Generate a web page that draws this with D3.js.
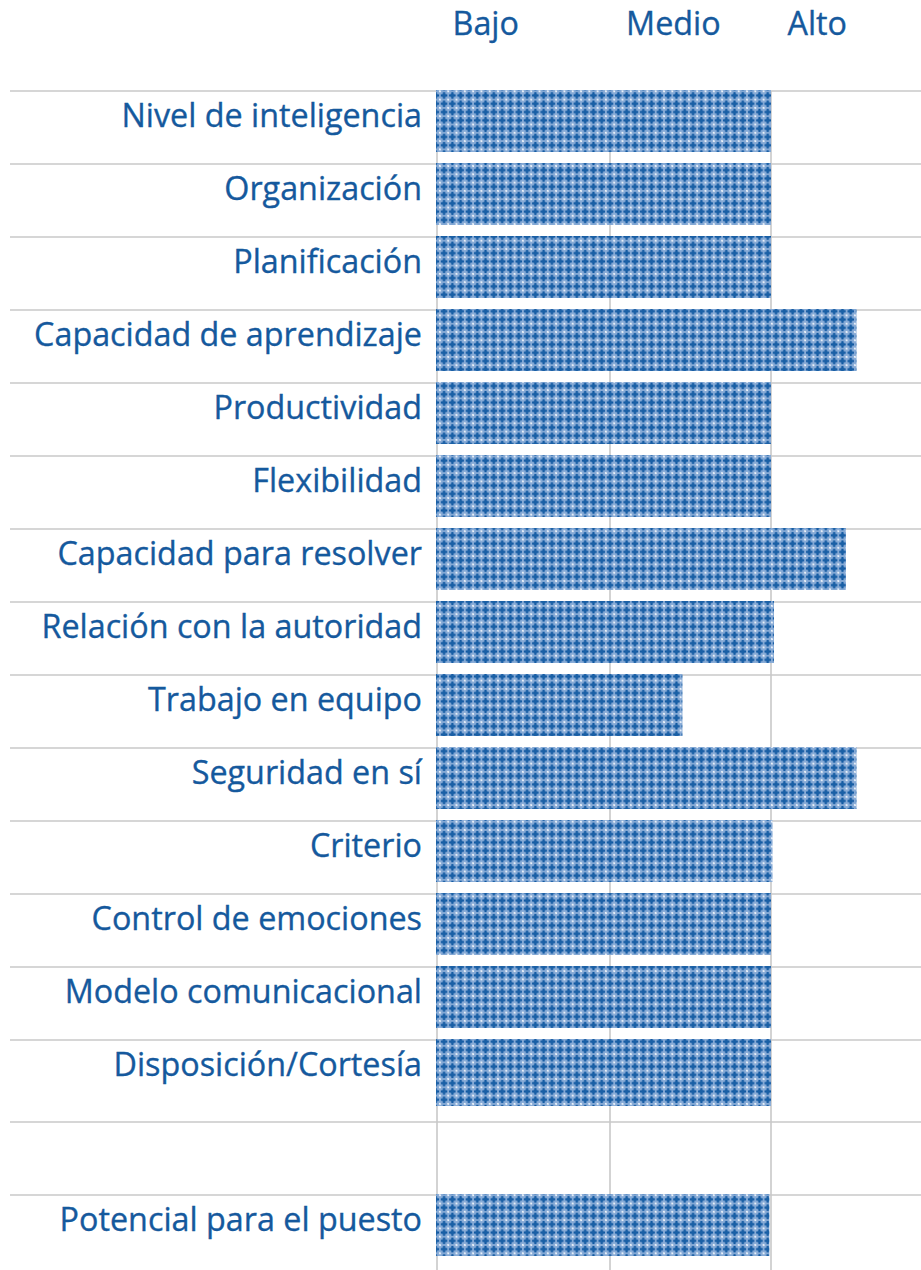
<!DOCTYPE html>
<html>
<head>
<meta charset="utf-8">
<script src="https://cdn.jsdelivr.net/npm/d3@7"></script>
<style>
  html, body { margin: 0; padding: 0; background: #ffffff; }
  svg { display: block; }
</style>
</head>
<body>
<svg id="chart" width="921" height="1270"></svg>
<script>
// ---- data ----
const categories = [
  "Nivel de inteligencia",
  "Organización",
  "Planificación",
  "Capacidad de aprendizaje",
  "Productividad",
  "Flexibilidad",
  "Capacidad para resolver",
  "Relación con la autoridad",
  "Trabajo en equipo",
  "Seguridad en sí",
  "Criterio",
  "Control de emociones",
  "Modelo comunicacional",
  "Disposición/Cortesía",
  "",
  "Potencial para el puesto"
];
// level: 0 = start, 1 = end of Bajo, 2 = end of Medio, 3 = end of Alto
const values = [2.0, 2.0, 2.0, 2.57, 2.0, 2.0, 2.5, 2.02, 1.45, 2.57, 2.01, 2.0, 2.0, 2.0, null, 1.99];
const tickLabels = ["Bajo", "Medio", "Alto"];
const tickLabelPos = [0.09, 1.1, 2.11];

// ---- layout ----
const svg = d3.select("#chart");
const textColor = "#15599D";
const gridColor = "#C8C8C8";
const font = "'Open Sans', sans-serif";

const x = d3.scaleLinear().domain([0, 1, 2, 3]).range([437, 610, 771, 921]);
const rowIdx = d3.scaleLinear().domain([0, 13, 14, 16]).range([91, 1040, 1122, 1268]);

// pattern
const defs = svg.append("defs");
const pat = defs.append("pattern")
  .attr("id", "cross")
  .attr("patternUnits", "userSpaceOnUse")
  .attr("width", 8.3).attr("height", 8.3);
pat.append("rect").attr("width", 8.3).attr("height", 8.3).attr("fill", "#86AAD6");
pat.append("rect").attr("x", 3.15).attr("y", 0.9).attr("width", 2).attr("height", 6.5).attr("fill", "#0D56A0");
pat.append("rect").attr("x", 0.9).attr("y", 3.15).attr("width", 6.5).attr("height", 2).attr("fill", "#0D56A0");
pat.append("rect").attr("x", 2.4).attr("y", 2.4).attr("width", 3.5).attr("height", 3.5).attr("fill", "#1A60A6");
pat.append("rect").attr("x", 0).attr("y", 0).attr("width", 1).attr("height", 1).attr("fill", "#F2F6FB");
pat.append("rect").attr("x", 7.3).attr("y", 7.3).attr("width", 1).attr("height", 1).attr("fill", "#F2F6FB");
pat.append("rect").attr("x", 7.3).attr("y", 0).attr("width", 1).attr("height", 1).attr("fill", "#DCE7F4");
pat.append("rect").attr("x", 0).attr("y", 7.3).attr("width", 1).attr("height", 1).attr("fill", "#DCE7F4");

// horizontal grid lines (row separators)
const rowLines = d3.range(categories.length).map(i => rowIdx(i));
svg.append("g").selectAll("line").data(rowLines).join("line")
  .attr("x1", 10).attr("x2", 921)
  .attr("y1", d => d).attr("y2", d => d)
  .attr("stroke", gridColor).attr("stroke-width", 1.6);

// vertical grid lines
svg.append("g").selectAll("line").data([0, 1, 2]).join("line")
  .attr("x1", d => x(d)).attr("x2", d => x(d))
  .attr("y1", 91).attr("y2", 1270)
  .attr("stroke", gridColor).attr("stroke-width", 1.6);

// bars
const barData = categories.map((c, i) => ({c, v: values[i], i})).filter(d => d.v != null);
svg.append("g").selectAll("rect").data(barData).join("rect")
  .attr("x", x(0) - 1)
  .attr("y", d => rowIdx(d.i) - 1)
  .attr("width", d => x(d.v) - x(0) + 1)
  .attr("height", d => d.i === 13 ? 67 : 62)
  .attr("fill", "url(#cross)");

// category labels
svg.append("g").selectAll("text").data(categories.map((c, i) => ({c, i}))).join("text")
  .attr("x", 422)
  .attr("y", d => rowIdx(d.i) + 36)
  .attr("text-anchor", "end")
  .attr("font-family", font)
  .attr("font-size", 32.3)
  .attr("fill", textColor)
  .attr("stroke", textColor)
  .attr("stroke-width", 0.35)
  .text(d => d.c);

// header labels
svg.append("g").selectAll("text").data(tickLabels).join("text")
  .attr("x", (d, i) => x(tickLabelPos[i]))
  .attr("y", 35)
  .attr("font-family", font)
  .attr("font-size", 32.3)
  .attr("fill", textColor)
  .attr("stroke", textColor)
  .attr("stroke-width", 0.35)
  .text(d => d);
</script>
</body>
</html>
